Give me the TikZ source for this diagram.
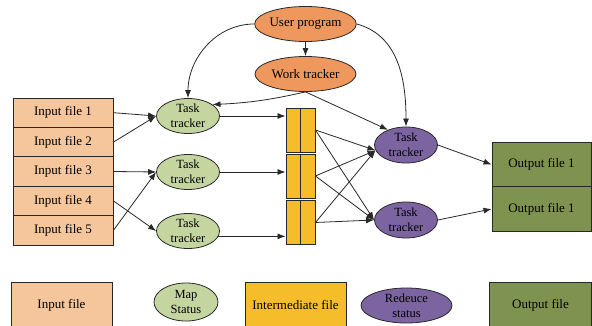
\documentclass[tikz,border=0pt]{standalone}
\usepackage{fontspec}
\setmainfont{Liberation Serif}
\usetikzlibrary{shapes.geometric,arrows.meta}

\definecolor{inpeach}{RGB}{245,197,155}
\definecolor{mapgreen}{RGB}{197,213,160}
\definecolor{midyellow}{RGB}{245,189,42}
\definecolor{redpurple}{RGB}{124,100,160}
\definecolor{outolive}{RGB}{127,147,80}
\definecolor{jobtan}{RGB}{238,152,94}
\definecolor{edge}{RGB}{40,40,40}

\begin{document}
\begin{tikzpicture}[x=1pt,y=-1pt,
  >={Latex[length=8pt,width=6pt]},
  every node/.style={font=\fontsize{13}{15}\selectfont},
  flow/.style={->,draw=edge,line width=0.8pt},
  infile/.style={rectangle,draw=edge,line width=0.9pt,fill=inpeach,minimum width=100,minimum height=29.4,inner sep=0pt},
  outfile/.style={rectangle,draw=edge,line width=0.9pt,fill=outolive,minimum width=99,minimum height=44.5,inner sep=0pt},
  midfile/.style={rectangle,draw=edge,line width=0.9pt,fill=midyellow,minimum width=29,minimum height=44,inner sep=0pt,
    path picture={\draw[edge,line width=1.2pt] (path picture bounding box.north) -- (path picture bounding box.south);}},
  job/.style={ellipse,draw=edge,line width=0.8pt,fill=jobtan,minimum width=101,minimum height=35,inner sep=0pt},
  maptrk/.style={ellipse,draw=edge,line width=0.8pt,fill=mapgreen,minimum width=63,minimum height=35,inner sep=0pt,
    label={[align=center,font=\fontsize{12.5}{15}\selectfont]center:#1}},
  redtrk/.style={ellipse,draw=edge,line width=0.8pt,fill=redpurple,minimum width=63,minimum height=36,inner sep=0pt,
    label={[align=center,font=\fontsize{12.5}{15}\selectfont]center:#1}},
]
  \useasboundingbox (0,0) rectangle (592,326);
  \clip (0,0) rectangle (592,326);

  \node[job] at (305.5,24) (user) {User program};
  \node[job] at (305.5,74) (work) {Work tracker};

  \node[infile] at (63,112.7) (in1) {Input file 1};
  \node[infile] at (63,142.1) (in2) {Input file 2};
  \node[infile] at (63,171.5) (in3) {Input file 3};
  \node[infile] at (63,200.9) (in4) {Input file 4};
  \node[infile] at (63,230.3) (in5) {Input file 5};

  \node[maptrk={Task\\tracker}] at (188,116) (map1) {};
  \node[maptrk={Task\\tracker}] at (188,172) (map2) {};
  \node[maptrk={Task\\tracker}] at (188,231) (map3) {};

  \node[midfile] at (300.5,130) (mid1) {};
  \node[midfile] at (300.5,176) (mid2) {};
  \node[midfile] at (300.5,222.5) (mid3) {};

  \node[redtrk={Task\\tracker}] at (406,145) (red1) {};
  \node[redtrk={Task\\tracker}] at (406,220) (red2) {};

  \node[outfile] at (541.5,164.5) (out1) {Output file 1};
  \node[outfile] at (541.5,209) (out2) {Output file 1};

  \draw[flow] (user.south) -- (work.north);
  \draw[flow] (user.west) to[out=180,in=90] (map1.north);
  \draw[flow] (user.east) to[out=-15,in=90] (red1.north);
  \draw[flow] (work.south) to[bend left=5] (map1.25);
  \draw[flow] (work.south) -- (red1.140);

  \draw[flow] (in1.east) -- (map1.west);
  \draw[flow] (in2.east) -- (map1.west);
  \draw[flow] (in3.east) -- (map2.west);
  \draw[flow] (in4.east) -- (map3.west);
  \draw[flow] (in5.east) -- (map2.west);

  \draw[flow] (map1.east) -- (map1.east -| mid1.west);
  \draw[flow] (map2.east) -- (map2.east -| mid2.west);
  \draw[flow] (map3.-10) -- (map3.-10 -| mid3.west);

  \foreach \m in {mid1,mid2,mid3} {
    \draw[flow] (\m.east) -- (red1.190);
    \draw[flow] (\m.east) -- (red2.west);
  }

  \draw[flow] (red1.east) -- (out1.west);
  \draw[flow] (red2.east) -- (out2.west);

  \node[infile,minimum width=101,minimum height=46] at (61.5,305) (keyin) {Input file};
  \node[maptrk={Map\\Status},minimum width=64,minimum height=38] at (186,302) (keymap) {};
  \node[midfile,path picture={},minimum width=101,minimum height=46] at (295.5,305) (keymid) {Intermediate file};
  \node[redtrk={Redeuce\\status},minimum width=91,minimum height=35] at (406.5,305.5) (keyred) {};
  \node[outfile,minimum width=102,minimum height=46] at (540.5,305) (keyout) {Output file};
\end{tikzpicture}
\end{document}
